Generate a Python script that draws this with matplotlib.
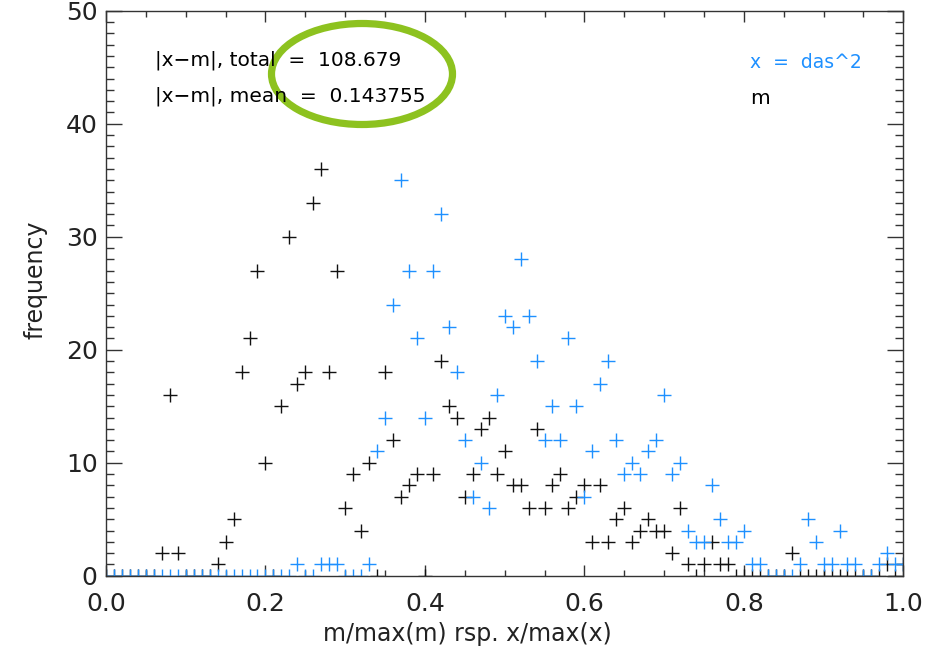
import numpy as np
import matplotlib
matplotlib.use("Agg")
import matplotlib.pyplot as plt
from matplotlib.ticker import MultipleLocator, FormatStrFormatter
from matplotlib.patches import Ellipse

# histogram bins (0.00 ... 1.00, step 0.01)
bin_locs = np.round(np.arange(101) * 0.01, 2)

# counts of m/max(m)  (black)
m_counts = [0, 0, 0, 0, 0, 0, 0, 2, 16, 2,
            0, 0, 0, 0, 1, 3, 5, 18, 21, 27,
            10, 0, 15, 30, 17, 18, 33, 36, 18, 27,
            6, 9, 4, 10, 0, 18, 12, 7, 8, 9,
            0, 9, 19, 15, 14, 7, 9, 13, 14, 9,
            11, 8, 8, 6, 13, 6, 8, 9, 6, 7,
            8, 3, 8, 3, 5, 6, 3, 4, 5, 4,
            4, 2, 6, 1, 0, 1, 3, 1, 1, 0,
            0, 0, 0, 0, 0, 0, 2, 0, 0, 0,
            0, 0, 0, 0, 0, 0, 0, 0, 1, 0,
            1]

# counts of x/max(x), x = das^2  (blue)
x_counts = [0, 0, 0, 0, 0, 0, 0, 0, 0, 0,
            0, 0, 0, 0, 0, 0, 0, 0, 0, 0,
            0, 0, 0, 0, 1, 0, 0, 1, 1, 1,
            0, 0, 0, 1, 11, 14, 24, 35, 27, 21,
            14, 27, 32, 22, 18, 12, 7, 10, 6, 16,
            23, 22, 28, 23, 19, 12, 15, 12, 21, 15,
            7, 11, 17, 19, 12, 9, 10, 9, 11, 12,
            16, 9, 10, 4, 3, 3, 8, 5, 3, 3,
            4, 1, 1, 0, 0, 0, 0, 1, 5, 3,
            1, 1, 4, 1, 1, 0, 0, 1, 2, 1,
            1]

total_txt = "|x\u2212m|, total  =  108.679"
mean_txt = "|x\u2212m|, mean  =  0.143755"

W, H = 939, 658
blue = "#1e90ff"
axcol = "#333333"

fig = plt.figure(figsize=(W / 100, H / 100), dpi=100)
ax = fig.add_axes([106 / W, 1 - 575.7 / H, (903.3 - 106) / W, (575.7 - 10.7) / H])

ax.plot(bin_locs, m_counts, linestyle="none", marker="+", ms=9.6, mew=1.0,
        color="#111111")
ax.plot(bin_locs, x_counts, linestyle="none", marker="+", ms=9.6, mew=1.0,
        color=blue)

ax.set_xlim(0, 1)
ax.set_ylim(0, 50)
ax.xaxis.set_major_locator(MultipleLocator(0.2))
ax.xaxis.set_minor_locator(MultipleLocator(0.05))
ax.yaxis.set_major_locator(MultipleLocator(10))
ax.yaxis.set_minor_locator(MultipleLocator(1))
ax.xaxis.set_major_formatter(FormatStrFormatter("%.1f"))
ax.yaxis.set_major_formatter(FormatStrFormatter("%d"))

ax.tick_params(which="both", direction="in", top=True, right=True,
               color=axcol, width=1.0, labelcolor="#222222", labelsize=18)
ax.tick_params(axis="x", which="major", length=7.9, pad=12)
ax.tick_params(axis="x", which="minor", length=4.1)
ax.tick_params(axis="y", which="major", length=11.5, pad=6)
ax.tick_params(axis="y", which="minor", length=5.8)
for s in ax.spines.values():
    s.set_color(axcol)
    s.set_linewidth(1.0)

fig.text(467 / W, 1 - 634 / H, "m/max(m) rsp. x/max(x)", ha="center",
         va="center", fontsize=17, color="#222222")
fig.text(35 / W, 1 - 280 / H, "frequency", ha="center", va="center",
         rotation=90, fontsize=17, color="#222222")

fig.text(155 / W, 1 - 60 / H, total_txt, ha="left", va="center", fontsize=14.5)
fig.text(155 / W, 1 - 96 / H, mean_txt, ha="left", va="center", fontsize=14.5)
fig.text(750 / W, 1 - 62 / H, "x  =  das^2", ha="left", va="center",
         fontsize=13.5, color=blue)
fig.text(750 / W, 1 - 98 / H, "m", ha="left", va="center", fontsize=14.5)

ring = Ellipse((362 / W, 1 - 74 / H), 181 / W, 101 / H,
               transform=fig.transFigure, fill=False, ec="#8dc21f", lw=5.2)
fig.add_artist(ring)

fig.savefig("out.png", dpi=100)
